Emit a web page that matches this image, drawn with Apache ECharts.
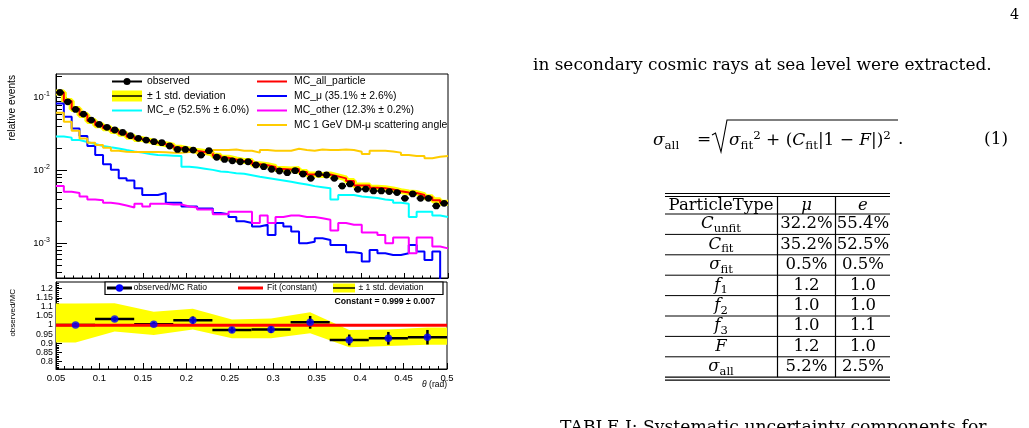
<!DOCTYPE html>
<html lang="en">
<head>
<meta charset="UTF-8">
<title>theta distribution</title>
<script src="https://cdn.jsdelivr.net/npm/echarts@6.0.0/dist/echarts.min.js"></script>
<style>
  html, body { margin: 0; padding: 0; background: #fff; }
  #main { width: 1029px; height: 428px; }
</style>
</head>
<body>
<div id="main"></div>
<script>
// ---- histogram binning (upper pad): 50 bins between 0.05 and 0.5 rad
var xMin = 0.05, xMax = 0.5, nBins = 50;

var observed = [0.118, 0.088, 0.069, 0.0597, 0.0493, 0.043, 0.0392, 0.036, 0.0334, 0.0301,
  0.0277, 0.0262, 0.0249, 0.0241, 0.0217, 0.0195, 0.0195, 0.0191, 0.0163, 0.0187,
  0.0152, 0.0142, 0.0136, 0.0132, 0.0132, 0.0119, 0.0113, 0.0104, 0.00985, 0.00933,
  0.00995, 0.00895, 0.0078, 0.00895, 0.00867, 0.0078, 0.00612, 0.00653, 0.00551, 0.00556,
  0.00524, 0.00524, 0.00513, 0.00497, 0.00415, 0.00476, 0.00415, 0.00415, 0.00326, 0.00354];
var mcAll = [0.118, 0.09, 0.07, 0.058, 0.048, 0.042, 0.038, 0.035, 0.032, 0.029,
  0.027, 0.0255, 0.024, 0.023, 0.022, 0.0205, 0.0195, 0.0185, 0.018, 0.0172,
  0.016, 0.015, 0.0142, 0.0135, 0.0135, 0.0122, 0.0118, 0.0112, 0.0105, 0.0103,
  0.0105, 0.0095, 0.0088, 0.0087, 0.0088, 0.0083, 0.0078, 0.0072, 0.0062, 0.0062,
  0.0058, 0.0057, 0.0055, 0.0052, 0.005, 0.0049, 0.0046, 0.0043, 0.0039, 0.0036];
var mcE = [0.0294, 0.0283, 0.0262, 0.0246, 0.0231, 0.0217, 0.0208, 0.02, 0.0191, 0.0183,
  0.0176, 0.0168, 0.0163, 0.0162, 0.016, 0.0158, 0.0113, 0.011, 0.0106, 0.0102,
  0.0097, 0.0095, 0.0092, 0.009, 0.0086, 0.0082, 0.0079, 0.0076, 0.0073, 0.007,
  0.0067, 0.0064, 0.0061, 0.0059, 0.0057, 0.004, 0.0046, 0.0046, 0.0044, 0.0043,
  0.0042, 0.004, 0.0039, 0.0036, 0.0035, 0.0023, 0.0027, 0.0027, 0.0024, 0.0023];
var mcMu = [0.0836, 0.0548, 0.0379, 0.0298, 0.0217, 0.0163, 0.0122, 0.0102, 0.0078, 0.0073,
  0.0057, 0.0046, 0.0046, 0.0049, 0.0036, 0.0036, 0.0032, 0.0032, 0.003, 0.003,
  0.0026, 0.0025, 0.0023, 0.002, 0.0019, 0.0017, 0.0018, 0.0013, 0.0019, 0.0017,
  0.00145, 0.001, 0.00105, 0.00117, 0.00111, 0.00095, 0.00095, 0.00075, 0.00073, 0.00056,
  0.00081, 0.00073, 0.00069, 0.00069, 0.00073, 0.00095, 0.00077, 0.00059, 0.00077, 0.0003];
var mcOther = [0.0061, 0.0051, 0.0049, 0.0044, 0.004, 0.0039, 0.0036, 0.0035, 0.0033, 0.0031,
  0.0035, 0.0032, 0.0035, 0.0035, 0.0034, 0.0034, 0.0032, 0.0031, 0.0029, 0.0029,
  0.0025, 0.0025, 0.0027, 0.0027, 0.0027, 0.0019, 0.0024, 0.0019, 0.0023, 0.0024,
  0.0024, 0.0023, 0.0023, 0.0022, 0.0021, 0.0015, 0.0019, 0.0018, 0.0018, 0.0014,
  0.0014, 0.0013, 0.001, 0.0012, 0.0012, 0.00073, 0.0012, 0.0012, 0.0009, 0.00085];
var mcDM = [0.0622, 0.0468, 0.0352, 0.0276, 0.0241, 0.0224, 0.0206, 0.0187, 0.0181, 0.018,
  0.018, 0.018, 0.018, 0.0178, 0.0176, 0.0176, 0.018, 0.0181, 0.0168, 0.0176,
  0.0191, 0.0191, 0.0195, 0.0187, 0.0187, 0.0176, 0.0191, 0.0187, 0.0187, 0.0187,
  0.0199, 0.0191, 0.0187, 0.0195, 0.0191, 0.0191, 0.0195, 0.0191, 0.0181, 0.0168,
  0.0187, 0.0187, 0.0183, 0.0176, 0.0163, 0.0158, 0.0158, 0.0147, 0.0155, 0.0158];

// ---- ratio pad: 10 bins
var ratioValues = [1.0, 1.033, 1.005, 1.027, 0.973, 0.976, 1.015, 0.918, 0.927, 0.933];
var ratioErrors = [0.01, 0.012, 0.012, 0.02, 0.015, 0.02, 0.035, 0.03, 0.035, 0.04];
var bandUpper = [1.118, 1.12, 1.073, 1.09, 1.031, 1.036, 1.07, 0.973, 0.976, 0.987];
var bandLower = [0.904, 0.964, 0.945, 0.976, 0.927, 0.927, 0.955, 0.878, 0.885, 0.891];
var fitConstant = 0.999;
var ratioTickLabels = [0.8, 0.85, 0.9, 0.95, 1, 1.05, 1.1, 1.15, 1.2];

// ---- table on the right
var tableHead = ['ParticleType', 'μ', 'e'];
var rowSymbol = ['C', 'C', 'σ', 'f', 'f', 'f', 'F', 'σ'];
var rowSub = ['unfit', 'fit', 'fit', '1', '2', '3', '', 'all'];
var muColumn = ['32.2%', '35.2%', '0.5%', '1.2', '1.0', '1.0', '1.2', '5.2%'];
var eColumn = ['55.4%', '52.5%', '0.5%', '1.0', '1.0', '1.1', '1.0', '2.5%'];

var sans = 'Liberation Sans';
var serif = 'DejaVu Serif';

var binW = (xMax - xMin) / nBins;
function stepData(vals) {
  var d = vals.map(function (v, i) { return [xMin + i * binW, v]; });
  d.push([xMax, vals[vals.length - 1]]);
  return d;
}
var obsData = observed.map(function (v, i) { return [xMin + (i + 0.5) * binW, v, binW / 2]; });

var rBinW = (xMax - xMin) / ratioValues.length;
var ratioCenters = ratioValues.map(function (v, i) { return xMin + (i + 0.5) * rBinW; });
var ratioData = ratioValues.map(function (v, i) { return [ratioCenters[i], v, rBinW / 2, ratioErrors[i]]; });
var bandPts = [[xMin, bandUpper[0]]];
ratioCenters.forEach(function (c, i) { bandPts.push([c, bandUpper[i]]); });
bandPts.push([xMax, bandUpper[bandUpper.length - 1]]);
bandPts.push([xMax, bandLower[bandLower.length - 1]]);
for (var i = ratioCenters.length - 1; i >= 0; i--) bandPts.push([ratioCenters[i], bandLower[i]]);
bandPts.push([xMin, bandLower[0]]);

// minor tick positions
var logMinor = [];
[0.0001, 0.001, 0.01, 0.1].forEach(function (d) {
  for (var k = 2; k <= 9; k++) logMinor.push(+(k * d).toPrecision(3));
});
var ratioMinor = [];
for (var t = 76; t <= 123; t++) ratioMinor.push(t / 100);

var black = '#000';
function histLine(name, vals, color, width, z) {
  return {
    type: 'line', name: name, xAxisIndex: 0, yAxisIndex: 0, step: 'end',
    data: stepData(vals), symbol: 'none', z: z, silent: true,
    lineStyle: { color: color, width: width }
  };
}

// text width fitting for the serif page text
var mctx = document.createElement('canvas').getContext('2d');
function fitSize(text, width) {
  mctx.font = '100px "' + serif + '"';
  return 100 * width / mctx.measureText(text).width;
}
var paraText = 'in secondary cosmic rays at sea level were extracted.';
var capText = 'TABLE I: Systematic uncertainty components for';
var bodySize = fitSize(paraText, 459);

function text(x, y, str, size, extra) {
  var st = { text: str, fill: black, fontSize: size, fontFamily: serif, align: 'left', verticalAlign: 'middle' };
  for (var k in extra) st[k] = extra[k];
  return { type: 'text', x: x, y: y, z: 20, style: st, silent: true };
}
function line(x1, y1, x2, y2, w, color) {
  return { type: 'line', z: 20, shape: { x1: x1, y1: y1, x2: x2, y2: y2 }, style: { stroke: color || black, lineWidth: w || 1 }, silent: true };
}
function mathRich(size) {
  return {
    i: { fontStyle: 'italic', fontSize: size, fontFamily: serif, lineHeight: size * 1.3 },
    r: { fontSize: size, fontFamily: serif, lineHeight: size * 1.3 },
    sb: { fontSize: size * 0.7, fontFamily: serif, verticalAlign: 'bottom' },
    sp: { fontSize: size * 0.7, fontFamily: serif, verticalAlign: 'top' }
  };
}

var graphics = [];
// page number
graphics.push(text(1010, 15, '4', bodySize * 0.85));
// paragraph
graphics.push(text(533, 66, paraText, bodySize));
// equation (1)
var eqY = 140;
graphics.push(text(653, eqY + 1, '{i|σ}{sb|all}', bodySize, { rich: mathRich(bodySize) }));
graphics.push(text(697, eqY, '=', bodySize));
graphics.push({ type: 'polyline', z: 20, shape: { points: [[712, eqY - 5], [715.5, eqY - 7], [721, eqY + 12], [727, eqY - 20], [898, eqY - 20]] },
  style: { stroke: black, lineWidth: 1.1, fill: null }, silent: true });
graphics.push(text(729, eqY + 1, '{i|σ}{sb|fit}{sp|2}{r| + (}{i|C}{sb|fit}{r||1 − }{i|F}{r||)}{sp|2}', bodySize, { rich: mathRich(bodySize) }));
graphics.push(text(898, eqY, '.', bodySize));
graphics.push(text(1008, eqY, '(1)', bodySize, { align: 'right' }));

// table
var tSize = fitSize('ParticleType', 105);
var tLeft = 665, tRight = 890, sep = [777.5, 835.5], colX = [721, 806.5, 863];
var ruleTop = 193.5, headLine = 214, pitch = 20.4;
var tBottom = headLine + pitch * rowSymbol.length;
graphics.push(line(tLeft, ruleTop, tRight, ruleTop, 1.2));
graphics.push(line(tLeft, ruleTop + 3, tRight, ruleTop + 3, 1.2));
graphics.push(line(tLeft, tBottom, tRight, tBottom, 1.2));
graphics.push(line(tLeft, tBottom + 3, tRight, tBottom + 3, 1.2));
sep.forEach(function (x) { graphics.push(line(x, ruleTop + 3, x, tBottom, 1.2)); });
graphics.push(text(colX[0], 206, tableHead[0], tSize, { align: 'center' }));
graphics.push(text(colX[1], 206, tableHead[1], tSize, { align: 'center', fontStyle: 'italic' }));
graphics.push(text(colX[2], 206, tableHead[2], tSize, { align: 'center', fontStyle: 'italic' }));
rowSymbol.forEach(function (s, r) {
  var top = headLine + pitch * r;
  var cy = top + pitch / 2;
  graphics.push(line(tLeft, top, tRight, top, 1));
  var lab = '{i|' + s + '}' + (rowSub[r] ? '{sb|' + rowSub[r] + '}' : '');
  graphics.push(text(colX[0], cy, lab, tSize, { align: 'center', rich: mathRich(tSize) }));
  graphics.push(text(colX[1], cy, muColumn[r], tSize, { align: 'center' }));
  graphics.push(text(colX[2], cy, eColumn[r], tSize, { align: 'center' }));
});
// caption (cut by the page edge)
graphics.push(text(560, 419, capText, fitSize(capText, 427), { verticalAlign: 'top' }));

// ---- plot texts: axis titles and legends
function sText(x, y, str, size, extra) {
  var g = text(x, y, str, size, extra);
  g.style.fontFamily = sans;
  return g;
}
var vTitle = { align: 'right', verticalAlign: 'middle' };
var tg = sText(12, 75, 'relative events', 10.2, vTitle); tg.rotation = Math.PI / 2; graphics.push(tg);
tg = sText(13, 289, 'observed/MC', 8, vTitle); tg.rotation = Math.PI / 2; graphics.push(tg);
graphics.push(sText(447, 385, '{it|θ} (rad)', 8.5, { align: 'right', rich: { it: { fontStyle: 'italic', fontSize: 8.5, fontFamily: sans } } }));

var legendRows = [81.5, 96, 110.5, 125];
function legLine(x, y, w, color, lw) { return line(x, y, x + w, y, lw, color); }
function dot(x, y, r, color) { return { type: 'circle', z: 21, shape: { cx: x, cy: y, r: r }, style: { fill: color }, silent: true }; }
function box(x, y, w, h, fill) { return { type: 'rect', z: 19, shape: { x: x, y: y, width: w, height: h }, style: { fill: fill }, silent: true }; }
// upper legend, column 1
graphics.push(legLine(112, legendRows[0], 30, black, 2));
graphics.push(dot(127, legendRows[0], 3.5, black));
graphics.push(box(112, legendRows[1] - 5.5, 30, 11, '#ffff00'));
graphics.push(legLine(112, legendRows[1], 30, black, 1.5));
graphics.push(legLine(112, legendRows[2], 30, '#00ffff', 2));
graphics.push(sText(147, legendRows[0], 'observed', 10.4));
graphics.push(sText(147, legendRows[1], '± 1 std. deviation', 10.4));
graphics.push(sText(147, legendRows[2], 'MC_e (52.5% ± 6.0%)', 10.4));
// upper legend, column 2
var col2 = [['MC_all_particle', '#ff0000'], ['MC_μ (35.1% ± 2.6%)', '#0000ff'],
  ['MC_other (12.3% ± 0.2%)', '#ff00ff'], ['MC 1 GeV DM-μ scattering angle', '#ffcc00']];
col2.forEach(function (c, i) {
  graphics.push(legLine(257, legendRows[i], 30, c[1], 2));
  graphics.push(sText(294, legendRows[i], c[0], 10.4));
});
// lower legend
var ly = 288;
graphics.push({ type: 'rect', z: 15, shape: { x: 105, y: 282, width: 338, height: 12.5 }, style: { fill: '#fff', stroke: black, lineWidth: 1.2 }, silent: true });
graphics.push(legLine(107, ly, 25, black, 3));
graphics.push(dot(119.5, ly, 3.7, '#0000ff'));
graphics.push(sText(133.5, ly, 'observed/MC Ratio', 8.6));
graphics.push(legLine(238, ly, 25, '#ff0000', 3));
graphics.push(sText(267, ly, 'Fit (constant)', 8.6));
graphics.push(box(333, ly - 4.5, 22, 9, '#ffff00'));
graphics.push(legLine(333, ly, 22, black, 1.5));
graphics.push(sText(358.5, ly, '± 1 std. deviation', 8.6));
graphics.push(sText(435, 302, 'Constant = 0.999 ± 0.007', 8.7, { align: 'right', fontWeight: 'bold' }));

var axisBlack = { lineStyle: { color: black, width: 1 } };
var chart = echarts.init(document.getElementById('main'));
chart.setOption({
  animation: false,
  backgroundColor: '#fff',
  grid: [
    { left: 56, top: 74, width: 392, height: 204, show: true, borderColor: black, borderWidth: 1, backgroundColor: 'rgba(0,0,0,0)' },
    { left: 56, top: 282, width: 391, height: 87, show: true, borderColor: black, borderWidth: 1, backgroundColor: 'rgba(0,0,0,0)' }
  ],
  xAxis: [
    { gridIndex: 0, type: 'value', min: xMin, max: xMax, interval: 0.05, axisLine: axisBlack,
      axisTick: { inside: true, length: 5, lineStyle: { color: black } },
      minorTick: { show: true, splitNumber: 5, length: 2.5, lineStyle: { color: black } },
      axisLabel: { show: false }, splitLine: { show: false } },
    { gridIndex: 1, type: 'value', min: xMin, max: xMax, interval: 0.05, axisLine: axisBlack,
      axisTick: { inside: true, length: 6, lineStyle: { color: black } },
      minorTick: { show: true, splitNumber: 5, length: 3, lineStyle: { color: black } },
      axisLabel: { fontSize: 9.5, fontFamily: sans, color: black, margin: 4 }, splitLine: { show: false } }
  ],
  yAxis: [
    { gridIndex: 0, type: 'log', logBase: 10, position: 'left', min: 3.33e-4, max: 0.212, axisLine: axisBlack,
      axisTick: { inside: true, length: 11, lineStyle: { color: black } },
      axisLabel: {
        color: black, margin: 6, showMinLabel: false, showMaxLabel: false,
        formatter: function (v) { return '{n|10}{e|' + Math.round(Math.log10(v)) + '}'; },
        rich: { n: { fontSize: 9.5, fontFamily: sans, lineHeight: 14 }, e: { fontSize: 7, fontFamily: sans, verticalAlign: 'top' } }
      },
      splitLine: { show: false } },
    { gridIndex: 0, type: 'log', logBase: 10, position: 'left', offset: 0, min: 3.33e-4, max: 0.212, axisLine: { show: false },
      axisTick: { inside: true, length: 6, customValues: logMinor, lineStyle: { color: black } },
      axisLabel: { show: false }, splitLine: { show: false } },
    { gridIndex: 1, type: 'value', position: 'left', min: 0.758, max: 1.237, axisLine: axisBlack,
      axisTick: { inside: true, length: 6, customValues: ratioTickLabels, lineStyle: { color: black } },
      axisLabel: { customValues: ratioTickLabels, showMinLabel: true, showMaxLabel: true, hideOverlap: false,
        fontSize: 8.8, lineHeight: 7, fontFamily: sans, color: black, margin: 3 },
      splitLine: { show: false } },
    { gridIndex: 1, type: 'value', position: 'left', offset: 0, min: 0.758, max: 1.237, axisLine: { show: false },
      axisTick: { inside: true, length: 3, customValues: ratioMinor, lineStyle: { color: black } },
      axisLabel: { show: false }, splitLine: { show: false } }
  ],
  series: [
    histLine('± 1 std. deviation', mcAll, '#ffff00', 6, 2),
    histLine('MC_all_particle', mcAll, '#ff0000', 2, 3),
    histLine('MC_e', mcE, '#00ffff', 2, 3),
    histLine('MC_μ', mcMu, '#0000ff', 2, 3),
    histLine('MC_other', mcOther, '#ff00ff', 2, 3),
    histLine('MC 1 GeV DM-μ', mcDM, '#ffcc00', 2, 3),
    {
      type: 'custom', name: 'observed', xAxisIndex: 0, yAxisIndex: 0, data: obsData, z: 5, clip: true, silent: true,
      renderItem: function (params, api) {
        var x = api.value(0), y = api.value(1), hw = api.value(2);
        var a = api.coord([x - hw, y]), b = api.coord([x + hw, y]), c = api.coord([x, y]);
        return { type: 'group', children: [
          { type: 'line', shape: { x1: a[0], y1: a[1], x2: b[0], y2: b[1] }, style: { stroke: black, lineWidth: 2 } },
          { type: 'circle', shape: { cx: c[0], cy: c[1], r: 3.4 }, style: { fill: black } }
        ] };
      }
    },
    {
      type: 'custom', name: 'band', xAxisIndex: 1, yAxisIndex: 2, data: [[xMin, 1]], z: 1, clip: true, silent: true,
      renderItem: function (params, api) {
        return { type: 'polygon', shape: { points: bandPts.map(function (p) { return api.coord(p); }) }, style: { fill: '#ffff00' } };
      }
    },
    {
      type: 'custom', name: 'ratio errors', xAxisIndex: 1, yAxisIndex: 2, data: ratioData, z: 2, clip: true, silent: true,
      renderItem: function (params, api) {
        var x = api.value(0), y = api.value(1), hw = api.value(2), e = api.value(3);
        var a = api.coord([x - hw, y]), b = api.coord([x + hw, y]);
        var t = api.coord([x, y + e]), d = api.coord([x, y - e]);
        return { type: 'group', children: [
          { type: 'line', shape: { x1: a[0], y1: a[1], x2: b[0], y2: b[1] }, style: { stroke: black, lineWidth: 2.5 } },
          { type: 'line', shape: { x1: t[0], y1: t[1], x2: d[0], y2: d[1] }, style: { stroke: black, lineWidth: 2.5 } }
        ] };
      }
    },
    {
      type: 'line', name: 'Fit (constant)', xAxisIndex: 1, yAxisIndex: 2, z: 3, symbol: 'none', silent: true,
      data: [[xMin, fitConstant], [xMax, fitConstant]], lineStyle: { color: '#ff0000', width: 3 }
    },
    {
      type: 'scatter', name: 'observed/MC Ratio', xAxisIndex: 1, yAxisIndex: 2, z: 4, silent: true,
      data: ratioData.map(function (d) { return [d[0], d[1]]; }), symbolSize: 7.5, itemStyle: { color: '#0000ff' }
    }
  ],
  graphic: graphics
});
</script>
</body>
</html>
